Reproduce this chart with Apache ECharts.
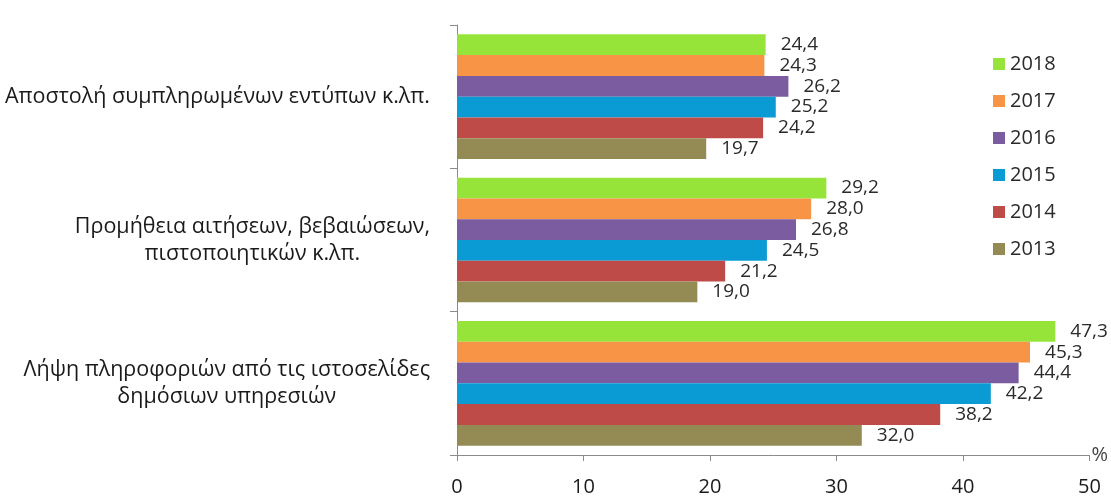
<!DOCTYPE html>
<html>
<head>
<meta charset="utf-8">
<script src="https://cdn.jsdelivr.net/npm/echarts@6/dist/echarts.min.js"></script>
<style>
html,body{margin:0;padding:0;background:#fff;}
#chart{width:1111px;height:498px;}
</style>
</head>
<body>
<div id="chart"></div>
<script>
// Categories listed bottom-to-top (ECharts category y-axis runs upward)
const categories = [
  'Λήψη πληροφοριών από τις ιστοσελίδες\nδημόσιων υπηρεσιών',
  'Προμήθεια αιτήσεων, βεβαιώσεων,\nπιστοποιητικών κ.λπ.',
  'Αποστολή συμπληρωμένων εντύπων κ.λπ.'
];
// Years in the order they appear top-to-bottom inside each group
const years = ['2018', '2017', '2016', '2015', '2014', '2013'];
const v2018 = [47.3, 29.2, 24.4];
const v2017 = [45.3, 28.0, 24.3];
const v2016 = [44.4, 26.8, 26.2];
const v2015 = [42.2, 24.5, 25.2];
const v2014 = [38.2, 21.2, 24.2];
const v2013 = [32.0, 19.0, 19.7];
const xTicks = [0, 10, 20, 30, 40, 50];
const colors = ['#96E43A', '#F79446', '#7B5CA0', '#0A9AD4', '#BE4B48', '#948A54'];

const seriesValues = [v2018, v2017, v2016, v2015, v2014, v2013];
const FONT = '"Open Sans", sans-serif';

const chart = echarts.init(document.getElementById('chart'), null, {renderer: 'canvas'});
const option = {
  animation: false,
  backgroundColor: '#ffffff',
  grid: {left: 457, right: 21, top: 25, bottom: 43, containLabel: false},
  legend: {
    orient: 'vertical',
    left: 988,
    top: 49,
    icon: 'rect',
    itemWidth: 12,
    itemHeight: 12,
    itemGap: 17,
    itemTextGap: 5,
    data: years.slice(),
    textStyle: {fontFamily: FONT, fontSize: 20, color: '#2a2a2a'}
  },
  xAxis: {
    type: 'value',
    min: xTicks[0],
    max: xTicks[xTicks.length - 1],
    interval: 10,
    name: '%',
    nameLocation: 'end',
    nameGap: 2,
    nameTextStyle: {fontFamily: FONT, fontSize: 20, color: '#444', padding: [0, 0, 8, 0]},
    axisLine: {show: true, lineStyle: {color: '#8a8a8a', width: 1}},
    axisTick: {show: true, length: 6, lineStyle: {color: '#8a8a8a'}},
    splitLine: {show: false},
    axisLabel: {margin: 22, fontFamily: FONT, fontSize: 20, color: '#1a1a1a'}
  },
  yAxis: {
    type: 'category',
    data: categories,
    axisLine: {show: true, lineStyle: {color: '#8a8a8a', width: 1}},
    axisTick: {show: true, length: 7, alignWithLabel: false, lineStyle: {color: '#8a8a8a'}},
    splitLine: {show: false},
    axisLabel: {
      margin: 27,
      align: 'right',
      fontFamily: FONT,
      fontSize: 21.5,
      color: '#1a1a1a',
      lineHeight: 27,
      formatter: function (v) {
        return v.split('\n').map(function (l) { return '{c|' + l + '}'; }).join('\n');
      },
      rich: {c: {align: 'center', fontFamily: FONT, fontSize: 21.5, color: '#1a1a1a', lineHeight: 27}}
    }
  },
  series: years.map(function (y, i) {
    return {
      name: y,
      type: 'bar',
      data: seriesValues[i],
      barGap: '0%',
      barCategoryGap: '13%',
      itemStyle: {color: colors[i]},
      label: {
        show: true,
        position: 'right',
        distance: 15,
        fontFamily: FONT,
        fontSize: 19,
        color: '#2a2a2a',
        padding: [3, 0, 0, 0],
        formatter: function (p) { return p.value.toFixed(1).replace('.', ','); }
      }
    };
  })
};
chart.setOption(option);
</script>
</body>
</html>
